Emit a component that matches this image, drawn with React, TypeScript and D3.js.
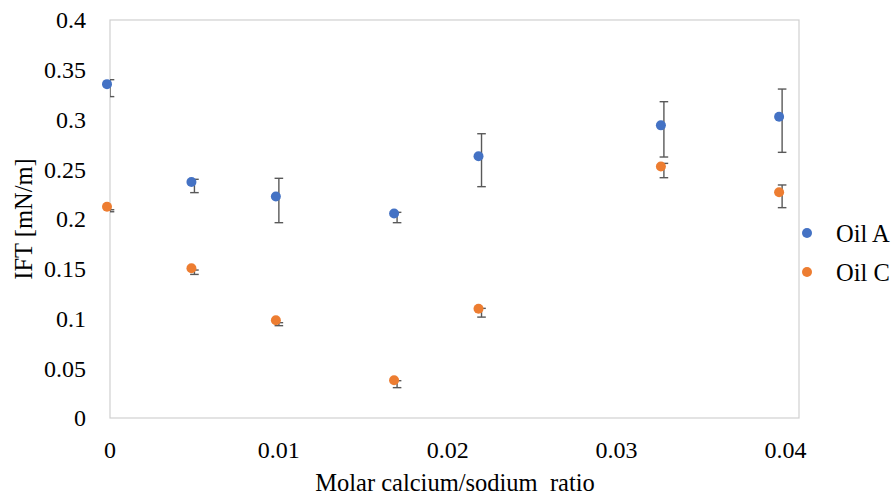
import React from "react";
import * as d3 from "d3";

const xValues = [0, 0.005, 0.01, 0.017, 0.022, 0.0328, 0.0398];
const oilA = [0.3315, 0.2332, 0.2186, 0.2015, 0.2591, 0.2901, 0.2988];
const oilAErr = [0.0085, 0.0067, 0.0223, 0.0052, 0.0266, 0.0278, 0.0318];
const oilC = [0.2083, 0.1465, 0.0943, 0.034, 0.1058, 0.2487, 0.2228];
const oilCErr = [0.001, 0.0022, 0.0015, 0.0035, 0.0044, 0.0072, 0.0114];
const xTicks = [0, 0.01, 0.02, 0.03, 0.04];
const yTicks = [0, 0.05, 0.1, 0.15, 0.2, 0.25, 0.3, 0.35, 0.4];
const seriesNames = ["Oil A", "Oil C"];
const colors = ["#4472C4", "#ED7D31"];

const W = 893, H = 496;
const plot = { left: 110, top: 20, right: 799, bottom: 418 };
const FONT = '"Liberation Serif", "Times New Roman", Times, "DejaVu Serif", serif';
const MARK_DX = -3, MARK_DY = -4, R = 5, CAP = 4.3;
const tick: React.CSSProperties = { fontFamily: FONT, fontSize: 24 };
const title: React.CSSProperties = { fontFamily: FONT, fontSize: 24.5 };

export default function App() {
  const x = d3.scaleLinear().domain([0, 0.0408]).range([plot.left, plot.right]);
  const y = d3.scaleLinear().domain([0, 0.4]).range([plot.bottom, plot.top]);
  const series = [
    { name: seriesNames[0], vals: oilA, err: oilAErr, color: colors[0] },
    { name: seriesNames[1], vals: oilC, err: oilCErr, color: colors[1] },
  ];
  return (
    <svg width={W} height={H} style={{ position: "absolute", left: 0, top: 0, background: "#fff" }}>
      <defs>
        <clipPath id="pa">
          <rect x={plot.left} y={plot.top} width={plot.right - plot.left} height={plot.bottom - plot.top} />
        </clipPath>
      </defs>
      <rect x={plot.left} y={plot.top} width={plot.right - plot.left} height={plot.bottom - plot.top} fill="none" stroke="#D0D0D0" strokeWidth={1.2} />
      {yTicks.map((t) => (
        <text key={t} x={86} y={y(t)} dy="0.35em" textAnchor="end" style={tick} fill="#000">
          {d3.format("")(t)}
        </text>
      ))}
      {xTicks.map((t) => (
        <text key={t} x={x(t)} y={450} dy="0.35em" textAnchor="middle" style={tick} fill="#000">
          {d3.format("")(t)}
        </text>
      ))}
      <text x={455} y={482} dy="0.35em" textAnchor="middle" style={title} fill="#000">
        Molar calcium/sodium{"\u00a0\u00a0"}ratio
      </text>
      <text transform={`translate(23,${(plot.top + plot.bottom) / 2}) rotate(-90)`} dy="0.35em" textAnchor="middle" style={title} fill="#000">
        IFT [mN/m]
      </text>
      {series.map((s, si) => (
        <g key={s.name}>
          <g clipPath="url(#pa)" stroke="#595959" strokeWidth={1.4}>
            {s.vals.map((v, i) => {
              const cx = x(xValues[i]);
              const y1 = y(v + s.err[i]);
              const y2 = y(v - s.err[i]);
              return (
                <g key={i}>
                  <line x1={cx} x2={cx} y1={y1} y2={y2} />
                  <line x1={cx - CAP} x2={cx + CAP} y1={y1} y2={y1} />
                  <line x1={cx - CAP} x2={cx + CAP} y1={y2} y2={y2} />
                </g>
              );
            })}
          </g>
          {s.vals.map((v, i) => (
            <circle key={i} cx={x(xValues[i]) + MARK_DX} cy={y(v) + MARK_DY} r={R} fill={s.color} />
          ))}
          <circle cx={807} cy={233 + si * 39} r={R} fill={s.color} />
          <text x={836} y={233 + si * 39} dy="0.35em" style={title} fill="#000">
            {s.name}
          </text>
        </g>
      ))}
    </svg>
  );
}
